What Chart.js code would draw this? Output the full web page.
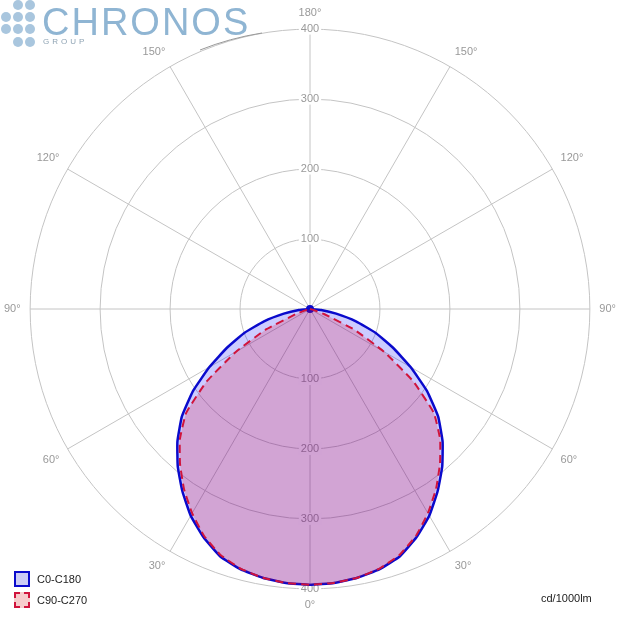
<!DOCTYPE html>
<html>
<head>
<meta charset="utf-8">
<script src="https://cdn.jsdelivr.net/npm/chart.js@4.4.1/dist/chart.umd.min.js"></script>
<style>
  body { margin: 0; background: #fff; }
  #wrap { position: relative; width: 620px; height: 620px; overflow: hidden; }
  #chart1 { position: absolute; left: 0; top: 0; }
  .dot { position: absolute; width: 10px; height: 10px; border-radius: 50%; background: #a9c6de; }
  #brand { position: absolute; left: 42px; top: 1px; font-family: "Liberation Sans", Arial, sans-serif; font-size: 38px; letter-spacing: 2px; color: #8fb5d3; }
  #group { position: absolute; left: 43px; top: 37px; font-family: "Liberation Sans", Arial, sans-serif; font-size: 8px; letter-spacing: 3px; color: #8fa4b4; }
  #legend { position: absolute; left: 14px; top: 568px; font-family: "Liberation Sans", Arial, sans-serif; font-size: 11px; color: #222; }
  .item { height: 21px; display: flex; align-items: center; }
  .box { width: 12px; height: 12px; margin-right: 7px; }
  #unit { position: absolute; left: 541px; top: 592px; font-family: "Liberation Sans", Arial, sans-serif; font-size: 11px; color: #222; }
</style>
</head>
<body>
<div id="wrap">
  <canvas id="chart1" width="620" height="620"></canvas>
  <div class="dot" style="left:13px;top:0px"></div><div class="dot" style="left:25px;top:0px"></div>
  <div class="dot" style="left:1px;top:12px"></div><div class="dot" style="left:13px;top:12px"></div><div class="dot" style="left:25px;top:12px"></div>
  <div class="dot" style="left:1px;top:24px"></div><div class="dot" style="left:13px;top:24px"></div><div class="dot" style="left:25px;top:24px"></div>
  <div class="dot" style="left:13px;top:37px"></div><div class="dot" style="left:25px;top:37px"></div>
  <div id="brand">CHRONOS</div>
  <div id="group">GROUP</div>
  <svg style="position:absolute;left:190px;top:28px" width="80" height="25"><path d="M10 22 Q 40 10 72 5" stroke="#999" stroke-width="1" fill="none"/></svg>
  <div id="legend"></div>
  <div id="unit">cd/1000lm</div>
</div>
<script>
//Gamma angles (degrees) and intensities in cd/1000lm for each half plane
var gammaAngles = [0, 5, 10, 15, 20, 25, 30, 35, 40, 45, 50, 55, 60, 65, 70, 75, 80, 85, 90,
    95, 100, 105, 110, 115, 120, 125, 130, 135, 140, 145, 150, 155, 160, 165, 170, 175, 180];
var c0Values = [394, 393, 390, 385, 376, 360, 341, 318, 294, 268, 239, 204, 166, 131, 100, 68, 38, 16, 0,
    0, 0, 0, 0, 0, 0, 0, 0, 0, 0, 0, 0, 0, 0, 0, 0, 0, 0];
var c180Values = [394, 393, 390, 385, 376, 360, 341, 318, 294, 268, 239, 204, 166, 131, 100, 68, 38, 16, 0,
    0, 0, 0, 0, 0, 0, 0, 0, 0, 0, 0, 0, 0, 0, 0, 0, 0, 0];
var c90Values = [394, 393, 390, 384, 374, 358, 337, 314, 289, 263, 231, 180, 122, 70, 22, 5, 0, 0, 0,
    0, 0, 0, 0, 0, 0, 0, 0, 0, 0, 0, 0, 0, 0, 0, 0, 0, 0];
var c270Values = [394, 393, 390, 384, 374, 358, 337, 314, 289, 263, 231, 180, 122, 70, 22, 5, 0, 0, 0,
    0, 0, 0, 0, 0, 0, 0, 0, 0, 0, 0, 0, 0, 0, 0, 0, 0, 0];
var radialTicks = [100, 200, 300, 400];
var seriesNames = ['C0-C180', 'C90-C270'];

//Building the radar table: going clockwise from the top, right half first (180 -> 0), then left half (0 -> 180)
var angleLabels = [];
var blueData = [];
var redData = [];
for (i = 0; i < 72; i++) {
    var theta = i * 5;
    var g, k;
    if (theta <= 180) {
        g = 180 - theta;
        k = gammaAngles.indexOf(g);
        blueData.push(c0Values[k]);
        redData.push(c90Values[k]);
    } else {
        g = theta - 180;
        k = gammaAngles.indexOf(g);
        blueData.push(c180Values[k]);
        redData.push(c270Values[k]);
    }
    angleLabels.push(g);
}

//Tick labels on the lower half of the vertical axis
const bottomTicks = {
    id: 'bottomTicks',
    beforeDatasetsDraw(chart) {
        const scale = chart.scales.r;
        const ctx = chart.ctx;
        ctx.save();
        ctx.font = '11px "Liberation Sans"';
        ctx.textAlign = 'center';
        ctx.textBaseline = 'middle';
        for (j = 0; j < radialTicks.length; j++) {
            const p = scale.getPointPositionForValue(36, radialTicks[j]);
            const txt = String(radialTicks[j]);
            const w = ctx.measureText(txt).width;
            ctx.fillStyle = '#fff';
            ctx.fillRect(p.x - w / 2 - 2, p.y - 6, w + 4, 12);
            ctx.fillStyle = '#999';
            ctx.fillText(txt, p.x, p.y);
        }
        ctx.restore();
    }
};

const CHART1 = document.getElementById("chart1");
let polarChart = new Chart(CHART1, {
    type: 'radar',
    data: {
        labels: angleLabels,
        datasets: [
            {
                label: seriesNames[0],
                order: 2,
                backgroundColor: 'rgba(0,0,255,.2)',
                borderColor: '#0a0acc',
                borderWidth: 2.5,
                tension: 0.12,
                pointRadius: ctx => ctx.dataIndex === 18 ? 4 : 0,
                pointBackgroundColor: '#0a0acc',
                pointBorderWidth: 0,
                fill: true,
                data: blueData
            },
            {
                label: seriesNames[1],
                order: 1,
                backgroundColor: 'rgba(230,0,40,.2)',
                borderColor: '#d0143c',
                borderWidth: 2,
                borderDash: [8, 5],
                tension: 0.12,
                pointRadius: 0,
                fill: true,
                data: redData
            }
        ]
    },
    options: {
        responsive: false,
        animation: false,
        layout: { padding: { left: 4, right: 4, top: 0, bottom: 0 } },
        plugins: {
            legend: { display: false },
            tooltip: { enabled: false }
        },
        scales: {
            r: {
                min: 0,
                max: 400,
                ticks: {
                    stepSize: 100,
                    color: '#999',
                    font: { family: 'Liberation Sans', size: 11 },
                    backdropColor: '#fff',
                    backdropPadding: { x: 2, y: 0 }
                },
                grid: { circular: true, color: '#c4c4c4', lineWidth: 1 },
                angleLines: {
                    color: '#c4c4c4',
                    lineWidth: ctx => ctx.index % 6 === 0 ? 1 : 0
                },
                pointLabels: {
                    color: '#999',
                    padding: 4,
                    font: { family: 'Liberation Sans', size: 11 },
                    callback: (label) => label % 30 === 0 ? label + '°' : ''
                }
            }
        }
    },
    plugins: [bottomTicks]
});

//Legend boxes built from the datasets
var legendHtml = '';
var boxStyles = ['border:2px solid #0a0acc;background:#ccccf5;', 'border:2px dashed #d0143c;background:#f7cccc;'];
for (i = 0; i < polarChart.data.datasets.length; i++) {
    legendHtml += '<div class="item"><div class="box" style="' + boxStyles[i] + '"></div>' + polarChart.data.datasets[i].label + '</div>';
}
document.getElementById('legend').innerHTML = legendHtml;
</script>
</body>
</html>
